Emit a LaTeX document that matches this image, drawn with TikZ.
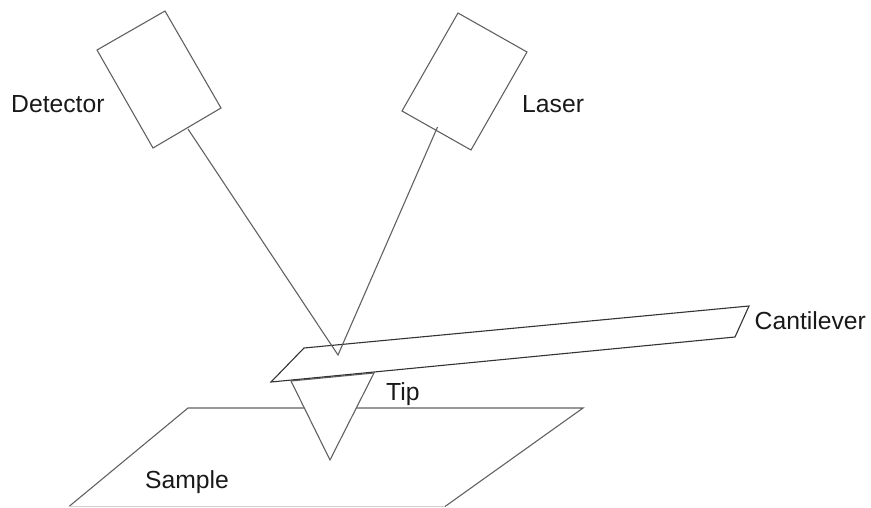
\documentclass[tikz,border=0pt]{standalone}
\usepackage{fontspec}
\setmainfont{Liberation Sans}
\tikzset{
  shape line/.style={draw=black!62,line width=1.1pt,line join=miter,fill=white},
  beam line/.style={draw=black!62,line width=1.1pt},
  lever line/.style={draw=black!80,line width=1.1pt,line join=miter,fill=white},
  label text/.style={inner sep=0pt,anchor=base west,font=\fontsize{24.7}{28}\selectfont,text=black!90},
}
\begin{document}
\begin{tikzpicture}[x=1pt,y=-1pt]
\useasboundingbox (0,0) rectangle (871,507);
% sample
\coordinate (s1) at (188,408);
\coordinate (s2) at (583,408);
\coordinate (s3) at (445,506.5);
\coordinate (s4) at (69,506.5);
\draw[beam line] (s4) -- (s1) -- (s2) -- (s3);
\draw[draw=black!18,line width=1pt] (s3) -- (s4);
% tip
\coordinate (t1) at (291,381);
\coordinate (t2) at (330,460);
\coordinate (t3) at (374,373);
\draw[shape line] (t1) -- (t2) -- (t3) -- cycle;
% cantilever
\coordinate (c1) at (304,348);
\coordinate (c2) at (749,306);
\coordinate (c3) at (735,337);
\coordinate (c4) at (271,382);
\draw[lever line] (c1) -- (c2) -- (c3) -- (c4) -- cycle;
% detector and laser
\coordinate (d1) at (97,50);
\coordinate (d2) at (165,11);
\coordinate (d3) at (221,108);
\coordinate (d4) at (153,148);
\draw[shape line] (d1) -- (d2) -- (d3) -- (d4) -- cycle;
\coordinate (l1) at (458,13);
\coordinate (l2) at (527,52);
\coordinate (l3) at (471,150);
\coordinate (l4) at (402,111);
\draw[shape line] (l1) -- (l2) -- (l3) -- (l4) -- cycle;
% beam
\coordinate (spot) at (338,355);
\coordinate (din) at (188,129);
\coordinate (lout) at (437.5,127);
\draw[beam line,line join=miter] (din) -- (spot) -- (lout);
% labels
\node[label text] (detector) at (11,112.5) {Detector};
\node[label text] (laser) at (522,112.5) {Laser};
\node[label text] (cantilever) at (754.5,329) {Cantilever};
\node[label text] (tip) at (386,400) {Tip};
\node[label text] (sample) at (145,488) {Sample};
\end{tikzpicture}
\end{document}
